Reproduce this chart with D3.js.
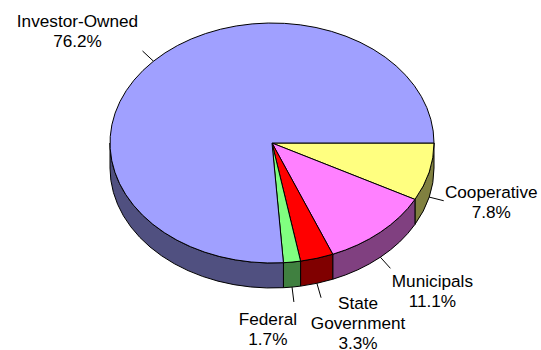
<!DOCTYPE html>
<html>
<head>
<meta charset="utf-8">
<script src="https://cdn.jsdelivr.net/npm/d3@7"></script>
<style>
  body { margin: 0; background: #fff; }
  text { font-family: "Liberation Sans", Arial, sans-serif; font-size: 17.2px; fill: #000; }
</style>
</head>
<body>
<div id="chart"></div>
<script>
// data, in drawing order (clockwise from 3 o'clock)
const categories = ["Cooperative", "Municipals", "State Government", "Federal", "Investor-Owned"];
const shares = [7.8, 11.1, 3.3, 1.7, 76.2];
const labelLines = [["Cooperative"], ["Municipals"], ["State", "Government"], ["Federal"], ["Investor-Owned"]];

const topColors = ["#ffff80", "#ff80ff", "#ff0000", "#80ff80", "#a0a0ff"];
const sideColors = ["#808040", "#804080", "#800000", "#408040", "#505080"];

// label offsets from the end of each leader line (x = text centre, y = first baseline)
const labelOffsets = [[47.5, -3], [42, 18.5], [37, 11], [-26, 23.5], [-65, -24]];

const width = 541;
const height = 350;
const cx = 272, cy = 143;
const rx = 162, ry = 120;
const depth = 25;
const leaderLen = 15;

const svg = d3.select("#chart")
  .append("svg")
    .attr("width", width)
    .attr("height", height);

const pie = d3.pie().sort(null).startAngle(0).endAngle(2 * Math.PI);
const arcs = pie(shares);

const pt = (a, dy = 0) => [cx + rx * Math.cos(a), cy + dy + ry * Math.sin(a)];

// side walls (front half only, angles 0..PI)
function sidePath(a0, a1) {
  const s = Math.max(a0, 0), e = Math.min(a1, Math.PI);
  if (e <= s) return null;
  const t0 = pt(s), t1 = pt(e), b1 = pt(e, depth), b0 = pt(s, depth);
  return `M${t0}A${rx},${ry} 0 0 1 ${t1}L${b1}A${rx},${ry} 0 0 0 ${b0}Z`;
}

svg.append("g")
  .selectAll("path")
  .data(arcs.filter(d => sidePath(d.startAngle, d.endAngle)))
  .join("path")
    .attr("d", d => sidePath(d.startAngle, d.endAngle))
    .attr("fill", d => sideColors[d.index])
    .attr("stroke", "#000")
    .attr("stroke-width", 1)
    .attr("stroke-linejoin", "round");

// top faces
function topPath(a0, a1) {
  const p0 = pt(a0), p1 = pt(a1);
  const large = a1 - a0 > Math.PI ? 1 : 0;
  return `M${cx},${cy}L${p0}A${rx},${ry} 0 ${large} 1 ${p1}Z`;
}

svg.append("g")
  .selectAll("path")
  .data(arcs)
  .join("path")
    .attr("d", d => topPath(d.startAngle, d.endAngle))
    .attr("fill", d => topColors[d.index])
    .attr("stroke", "#000")
    .attr("stroke-width", 1)
    .attr("stroke-linejoin", "round");

// leader lines and labels
const labels = arcs.map(d => {
  const mid = (d.startAngle + d.endAngle) / 2;
  const front = Math.sin(mid) > 0;
  const start = pt(mid, front ? depth : 0);
  const end = [start[0] + leaderLen * Math.cos(mid), start[1] + leaderLen * Math.sin(mid)];
  return { d, start, end };
});

svg.append("g")
  .selectAll("line")
  .data(labels)
  .join("line")
    .attr("x1", l => l.start[0])
    .attr("y1", l => l.start[1])
    .attr("x2", l => l.end[0])
    .attr("y2", l => l.end[1])
    .attr("stroke", "#000")
    .attr("stroke-width", 1);

const txt = svg.append("g")
  .selectAll("text")
  .data(labels)
  .join("text")
    .attr("text-anchor", "middle")
    .attr("x", l => l.end[0] + labelOffsets[l.d.index][0])
    .attr("y", l => l.end[1] + labelOffsets[l.d.index][1]);

txt.each(function(l) {
  const lines = labelLines[l.d.index].concat([d3.format(".1f")(shares[l.d.index]) + "%"]);
  const x = l.end[0] + labelOffsets[l.d.index][0];
  d3.select(this).selectAll("tspan")
    .data(lines)
    .join("tspan")
      .attr("x", x)
      .attr("dy", (s, i) => i === 0 ? 0 : 20)
      .text(s => s);
});
</script>
</body>
</html>
